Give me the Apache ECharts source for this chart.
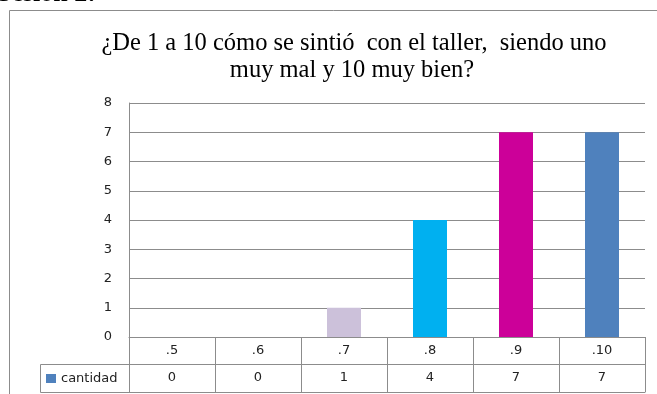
<!DOCTYPE html>
<html>
<head>
<meta charset="utf-8">
<script src="https://cdn.jsdelivr.net/npm/echarts@6/dist/echarts.min.js"></script>
<style>
  html, body { margin: 0; padding: 0; background: #fff; }
  #chart { width: 657px; height: 394px; }
</style>
</head>
<body>
<div id="chart"></div>
<script>
// Rating categories, counts per rating, and the bar colours
const categories = ['.5', '.6', '.7', '.8', '.9', '.10'];
const cantidad = [0, 0, 1, 4, 7, 7];
const barColors = ['#4F81BD', '#4F81BD', '#CCC1DA', '#00B0F0', '#CC0099', '#4F81BD'];
const yTicks = [0, 1, 2, 3, 4, 5, 6, 7, 8];
const seriesName = 'cantidad';
const heading = 'Sesión 2:';
const titleLine1 = '¿De 1 a 10 cómo se sintió  con el taller,  siendo uno';
const titleLine2 = 'muy mal y 10 muy bien?';

const GRID = '#8c8c8c';
const LABEL_FONT = '"DejaVu Sans", Verdana, sans-serif';
const SERIF = '"Liberation Serif", "Times New Roman", serif';

const chart = echarts.init(document.getElementById('chart'), null, { renderer: 'canvas' });

const tableAxisBase = {
  type: 'category',
  data: categories,
  position: 'bottom',
  boundaryGap: true,
  axisLine: { show: true, lineStyle: { color: GRID, width: 1 } },
  axisTick: { show: false },
  splitLine: { show: false }
};

chart.setOption({
  animation: false,
  backgroundColor: '#fff',
  grid: { left: 129, right: 12, top: 103, bottom: 57, containLabel: false },
  legend: {
    show: true,
    data: [seriesName],
    left: 46,
    top: 372,
    icon: 'rect',
    itemWidth: 10,
    itemHeight: 9,
    itemGap: 4,
    padding: 0,
    selectedMode: false,
    textStyle: { fontFamily: LABEL_FONT, fontSize: 13, color: '#222', padding: [0, 0, 0, 0] }
  },
  xAxis: [
    Object.assign({}, tableAxisBase, {
      axisTick: { show: true, interval: 0, length: 55, alignWithLabel: false, lineStyle: { color: GRID } },
      axisLabel: { interval: 0, margin: 7, fontFamily: LABEL_FONT, fontSize: 13, color: '#222' }
    }),
    Object.assign({}, tableAxisBase, {
      offset: 27,
      axisLabel: {
        interval: 0, margin: 7, fontFamily: LABEL_FONT, fontSize: 13, color: '#222',
        formatter: (v, i) => String(cantidad[i])
      }
    }),
    Object.assign({}, tableAxisBase, {
      offset: 55,
      axisLabel: { show: false }
    })
  ],
  yAxis: {
    type: 'value',
    min: yTicks[0],
    max: yTicks[yTicks.length - 1],
    interval: 1,
    axisLine: { show: true, lineStyle: { color: GRID } },
    axisTick: { show: false },
    axisLabel: { margin: 17, fontFamily: LABEL_FONT, fontSize: 13, color: '#222' },
    splitLine: { show: true, lineStyle: { color: GRID, width: 1 } }
  },
  series: [{
    name: seriesName,
    type: 'bar',
    xAxisIndex: 0,
    barWidth: 34,
    itemStyle: { color: '#4F81BD' },
    data: cantidad.map((v, i) => ({ value: v, itemStyle: { color: barColors[i] } }))
  }],
  graphic: [
    // outer frame of the chart box
    {
      type: 'rect', silent: true, z: 0,
      shape: { x: 9.5, y: 10.5, width: 700, height: 420 },
      style: { fill: 'none', stroke: GRID, lineWidth: 1 }
    },
    // legend cell of the data table
    {
      type: 'polyline', silent: true, z: 10,
      shape: { points: [[129, 364.5], [40.5, 364.5], [40.5, 392.5], [129, 392.5]] },
      style: { fill: 'none', stroke: GRID, lineWidth: 1 }
    },
    {
      type: 'text', silent: true, z: 10,
      x: -3, y: 7,
      style: { text: heading, font: 'bold 26px ' + SERIF, fill: '#000', verticalAlign: 'bottom', align: 'left' }
    },
    {
      type: 'text', silent: true, z: 10,
      x: 354, y: 44,
      style: { text: titleLine1, font: '24.5px ' + SERIF, fill: '#000', align: 'center', verticalAlign: 'middle' }
    },
    {
      type: 'text', silent: true, z: 10,
      x: 352, y: 71,
      style: { text: titleLine2, font: '24.5px ' + SERIF, fill: '#000', align: 'center', verticalAlign: 'middle' }
    }
  ]
});
</script>
</body>
</html>
